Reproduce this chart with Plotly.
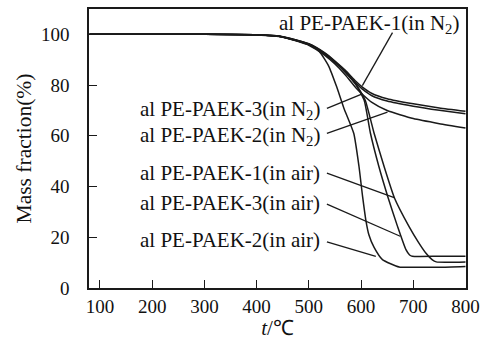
import plotly.graph_objects as go

# ---- data ----
t_n2_1 = [80, 300, 400, 450, 500, 530, 550, 570, 590, 602, 620, 650, 700, 750, 800]
m_n2_1 = [100, 100, 99.8, 99.1, 96.3, 92.8, 89.5, 85.8, 81.5, 79.3, 76.8, 74.6, 72.6, 71.0, 69.7]

t_n2_3 = [80, 300, 400, 450, 500, 530, 550, 570, 590, 602, 620, 650, 700, 750, 800]
m_n2_3 = [100, 100, 99.8, 99.0, 96.0, 92.3, 89.0, 85.2, 80.8, 78.5, 75.9, 73.7, 71.7, 70.1, 68.7]

t_n2_2 = [80, 300, 400, 450, 500, 530, 550, 570, 590, 602, 620, 650, 700, 750, 800]
m_n2_2 = [100, 100, 99.7, 98.9, 95.7, 91.8, 88.3, 84.0, 79.0, 76.5, 73.3, 70.0, 66.8, 64.8, 63.1]

t_air_1 = [80, 300, 400, 450, 500, 530, 550, 570, 590, 608, 625, 644, 664, 692, 710, 724, 736, 744, 800]
m_air_1 = [100, 100, 99.8, 99.1, 96.2, 92.6, 89.3, 85.3, 80.5, 74.0, 61.0, 48.0, 35.5, 24.2, 18.0, 13.8, 11.2, 10.3, 10.3]

t_air_3 = [80, 300, 400, 450, 500, 530, 550, 570, 590, 606, 618, 634, 652, 670, 686, 693, 698, 750, 800]
m_air_3 = [100, 100, 99.8, 99.0, 96.0, 92.4, 89.0, 85.0, 80.2, 74.0, 61.0, 48.0, 35.5, 24.2, 15.1, 13.0, 12.5, 12.5, 12.5]

t_air_2 = [80, 300, 400, 450, 500, 520, 538, 553, 567, 586, 596, 603, 609, 615, 625, 641, 673, 700, 750, 800]
m_air_2 = [100, 100, 99.8, 99.0, 96.0, 93.3, 87.5, 79.5, 71.0, 61.0, 48.0, 36.0, 27.0, 21.0, 16.0, 11.2, 8.3, 8.2, 8.2, 8.5]

series = [
    (t_n2_1, m_n2_1), (t_n2_3, m_n2_3), (t_n2_2, m_n2_2),
    (t_air_1, m_air_1), (t_air_3, m_air_3), (t_air_2, m_air_2),
]

label_texts = [
    "al PE-PAEK-1(in N<sub>2</sub>)",
    "al PE-PAEK-3(in N<sub>2</sub>)",
    "al PE-PAEK-2(in N<sub>2</sub>)",
    "al PE-PAEK-1(in air)",
    "al PE-PAEK-3(in air)",
    "al PE-PAEK-2(in air)",
]
label_t = [792, 525, 525, 525, 525, 525]
label_m = [104.1, 70.0, 59.8, 45.2, 33.4, 19.0]
pointer_tail_t = [660.2, 534.6, 534.6, 534.6, 534.6, 534.6]
pointer_tail_m = [100.7, 70.8, 61.0, 45.3, 33.1, 18.2]
pointer_head_t = [602.5, 602.5, 650.6, 663.5, 675.0, 628.3]
pointer_head_m = [79.8, 76.5, 69.3, 35.6, 20.4, 12.5]

x_ticks = [100, 200, 300, 400, 500, 600, 700, 800]
y_ticks = [0, 20, 40, 60, 80, 100]

FONT = "Liberation Serif, Times New Roman, serif"
LINE = "#1a1a1a"

fig = go.Figure()
for t, m in series:
    fig.add_trace(go.Scatter(x=t, y=m, mode="lines",
                             line=dict(color=LINE, width=1.5, shape="spline", smoothing=0.5),
                             showlegend=False, hoverinfo="skip"))

for txt, lt, lm in zip(label_texts, label_t, label_m):
    fig.add_annotation(x=lt, y=lm, xref="x", yref="y", text=txt, showarrow=False,
                       xanchor="right", yanchor="middle",
                       font=dict(family=FONT, size=21, color="#111"))

for tt, tm, ht, hm in zip(pointer_tail_t, pointer_tail_m, pointer_head_t, pointer_head_m):
    fig.add_shape(type="line", xref="x", yref="y", x0=tt, y0=tm, x1=ht, y1=hm,
                  line=dict(color=LINE, width=1.3))

fig.update_layout(
    width=485, height=340,
    margin=dict(l=89, r=19, t=9, b=52),
    paper_bgcolor="white", plot_bgcolor="white",
    font=dict(family=FONT, size=19, color="#111"),
    xaxis=dict(range=[79, 801], tickvals=x_ticks, ticks="inside", ticklen=8,
               tickwidth=1.3, tickcolor=LINE, showline=True, linecolor=LINE,
               linewidth=1.5, mirror=True, showgrid=False, zeroline=False,
               automargin=False, ticklabelstandoff=0,
               title=dict(text="<i>t</i>/℃", font=dict(family=FONT, size=21), standoff=7),
               tickfont=dict(family=FONT, size=19)),
    yaxis=dict(range=[0, 110], tickvals=y_ticks, ticks="inside", ticklen=8,
               tickwidth=1.3, tickcolor=LINE, showline=True, linecolor=LINE,
               linewidth=1.5, mirror=True, showgrid=False, zeroline=False,
               automargin=False, ticklabelstandoff=14,
               title=dict(text="Mass fraction(%)", font=dict(family=FONT, size=21.5), standoff=3),
               tickfont=dict(family=FONT, size=19)),
)

fig.write_html("out.html", config={"displayModeBar": False},
               post_script="document.body.style.margin='0px';document.body.style.overflow='hidden';")
